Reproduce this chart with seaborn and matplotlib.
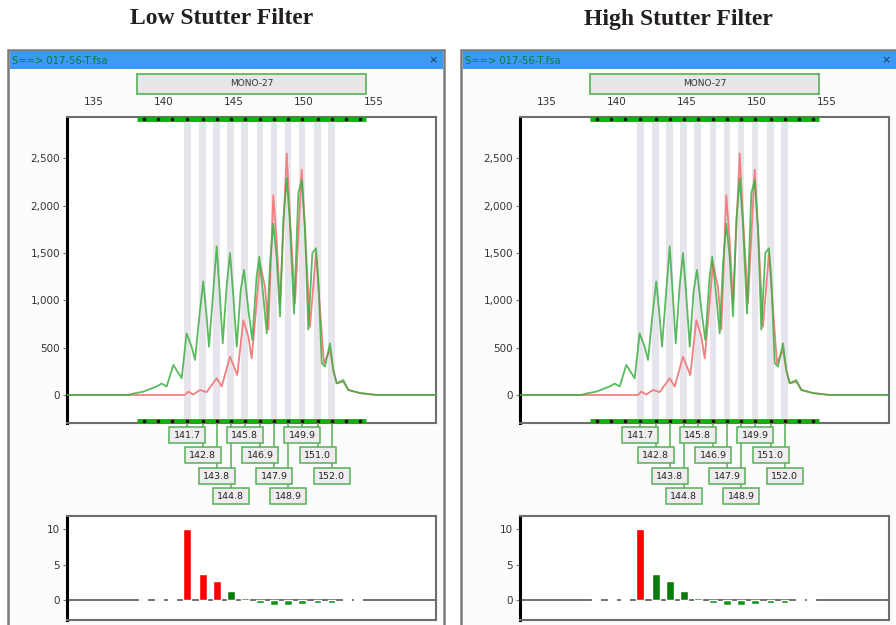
import matplotlib
matplotlib.use("Agg")
import matplotlib.pyplot as plt
import seaborn as sns
import pandas as pd
from matplotlib.patches import Rectangle
from matplotlib import transforms

# ---------------- data ----------------
panel_titles = ["Low Stutter Filter", "High Stutter Filter"]
window_title = "S==> 017-56-T.fsa"
marker_name = "MONO-27"
size_ticks = [135, 140, 145, 150, 155]
height_ticks = [0, 500, 1000, 1500, 2000, 2500]
bar_ticks = [0, 5, 10]

allele_sizes = [141.7, 142.8, 143.8, 144.8, 145.8, 146.9, 147.9, 148.9, 149.9, 151.0, 152.0]
allele_labels = ["141.7", "142.8", "143.8", "144.8", "145.8", "146.9",
                 "147.9", "148.9", "149.9", "151.0", "152.0"]

green_bp = [133.1, 137.48, 137.84, 138.56, 139.16, 139.51, 139.87, 140.23, 140.70, 141.30,
            141.65, 142.01, 142.25, 142.56, 142.84, 143.08, 143.25, 143.56, 143.80, 144.03,
            144.23, 144.51, 144.75, 144.99, 145.23, 145.51, 145.75, 146.06, 146.34, 146.65,
            146.84, 147.13, 147.37, 147.61, 147.84, 148.08, 148.32, 148.56, 148.80, 149.03,
            149.32, 149.63, 149.87, 150.11, 150.34, 150.63, 150.89, 151.06, 151.30, 151.53,
            151.89, 152.13, 152.37, 152.84, 153.20, 154.03, 155.23, 159.5]
green_rfu = [0, 0, 15, 35, 70, 90, 120, 90, 317, 176,
             650, 510, 370, 830, 1200, 830, 510, 1110, 1570, 1040,
             545, 1150, 1500, 1040, 510, 1100, 1320, 900, 580, 1250,
             1460, 1040, 650, 1390, 1810, 1460, 830, 1850, 2290, 1810,
             860, 2130, 2270, 1740, 690, 1500, 1550, 1210, 335, 300,
             545, 260, 123, 158, 53, 20, 0, 0]

red_bp = [133.1, 141.53, 141.77, 142.13, 142.61, 143.08, 143.80, 144.16, 144.75, 145.27,
          145.70, 146.06, 146.30, 146.65, 146.89, 147.25, 147.49, 147.84, 148.08, 148.32,
          148.80, 149.03, 149.39, 149.87, 150.11, 150.46, 150.89, 151.18, 151.46, 151.89,
          152.13, 152.37, 152.84, 153.20, 154.03, 155.23, 159.5]
red_rfu = [0, 0, 35, 5, 53, 30, 176, 90, 405, 211,
           790, 616, 387, 970, 1390, 1140, 690, 2110, 1640, 970,
           2550, 1880, 970, 2380, 1740, 720, 1500, 900, 335, 475,
           260, 123, 140, 53, 20, 0, 0]

bar_values = [10.0, 3.7, 2.7, 1.3, 0.33, -0.4, -0.7, -0.75, -0.55, -0.4, -0.45]
side_bar_bp = [138.56, 139.7, 140.59, 153.09, 153.91]
side_bar_values = [0.15, 0.15, 0.15, 0.15, 0.15]
red_bar_count = [3, 1]          # bars flagged red by the low / high filter

band_ticks = [138.6, 139.6, 140.6, 141.7, 142.8, 143.8, 144.8, 145.8, 146.9,
              147.9, 148.9, 149.9, 151.0, 152.0, 153.0, 154.0]
marker_range = [138.1, 154.45]

# ---------------- style ----------------
sns.set_theme(style="white")
plt.rcParams["font.family"] = ["DejaVu Sans"]

W, H = 896, 625
fig = plt.figure(figsize=(W / 100, H / 100), dpi=100)
fig.patch.set_facecolor("white")


def px_axes(l, t, r, b):
    return fig.add_axes([l / W, 1 - b / H, (r - l) / W, (b - t) / H])


XLIM = (133.11, 159.46)
GREEN = "#3cb043"
RED = "#f28080"
BOXEDGE = "#55b055"
TXT = "#333333"

bg = px_axes(0, 0, W, H)
bg.set_xlim(0, W)
bg.set_ylim(H, 0)
bg.axis("off")

for p in range(2):
    dx = 453 * p
    # window frame & title bar
    bg.add_patch(Rectangle((8 + dx, 50), 436, 590, facecolor="#fcfcfc",
                           edgecolor="#7a7a7a", lw=1.8, zorder=1))
    bg.add_patch(Rectangle((9.5 + dx, 51), 433, 18, facecolor="#3c9af2",
                           edgecolor="none", zorder=2))
    bg.text(12 + dx, 60.5, window_title, fontsize=7.2, color="#0b7a3c",
            va="center", ha="left", zorder=3)
    bg.text(433 + dx, 60, "×", fontsize=8, color="#1a3a5a", va="center",
            ha="center", zorder=3)
    bg.text(222 + dx * 1.008, 19, panel_titles[p], fontsize=17,
            family="Liberation Serif", weight="bold", color="#231f20",
            ha="center", va="center")

    # ---------- main electropherogram ----------
    ax = px_axes(67 + dx, 117, 436 + dx, 423)
    ax.set_facecolor("white")
    ax.set_xlim(*XLIM)
    ax.set_ylim(-296, 2936)
    for b in allele_sizes:
        ax.axvspan(b - 0.24, b + 0.24, color="#e8e4ec", lw=0, zorder=0)
    sns.lineplot(x=red_bp, y=red_rfu, color=RED, lw=1.3, ax=ax,
                 estimator=None, sort=False, zorder=2)
    sns.lineplot(x=green_bp, y=green_rfu, color=GREEN, lw=1.3, alpha=0.85,
                 ax=ax, estimator=None, sort=False, zorder=3)
    trans = transforms.blended_transform_factory(ax.transData, ax.transAxes)
    for yb in (0.992, 0.008):
        ax.plot(marker_range, [yb, yb], color="#12b012", lw=3.5,
                transform=trans, clip_on=False, zorder=4, solid_capstyle="butt")
        ax.plot(band_ticks, [yb] * len(band_ticks), ls="none", marker="s",
                ms=1.6, color="#111111", transform=trans, clip_on=False, zorder=5)
    # marker (bin set) label box
    ax.add_patch(Rectangle((marker_range[0], 1.075), marker_range[1] - marker_range[0],
                           0.0654, transform=trans, facecolor="#e8e6e9",
                           edgecolor=BOXEDGE, lw=1.2, clip_on=False, zorder=5))
    ax.text(sum(marker_range) / 2, 1.108, marker_name, transform=trans,
            fontsize=6.5, color=TXT, ha="center", va="center", clip_on=False,
            zorder=6)

    ax.xaxis.tick_top()
    ax.set_xticks(size_ticks)
    ax.set_xticklabels([str(t) for t in size_ticks])
    ax.tick_params(axis="x", length=0, pad=7, labelsize=7.5, labelcolor=TXT)
    ax.set_yticks(height_ticks)
    ax.set_yticklabels([f"{t:,}" for t in height_ticks])
    ax.tick_params(axis="y", left=True, length=3, width=0.8, color="#777777",
                   pad=2, labelsize=7.5, labelcolor=TXT)
    for s in ("top", "right", "bottom"):
        ax.spines[s].set_color("#6e6e6e")
        ax.spines[s].set_linewidth(1.5)
    ax.spines["left"].set_color("black")
    ax.spines["left"].set_linewidth(2.2)
    ax.set_xlabel("")
    ax.set_ylabel("")

    # ---------- allele label boxes ----------
    la = px_axes(67 + dx, 423, 436 + dx, 512)
    la.set_xlim(*XLIM)
    la.set_ylim(512, 423)
    la.axis("off")
    row_top = [427, 447, 468, 488]
    bw = 2.57
    for i, (b, lab) in enumerate(zip(allele_sizes, allele_labels)):
        top = row_top[i % 4]
        la.plot([b, b], [423, top], color=BOXEDGE, lw=1.1, zorder=1)
        la.add_patch(Rectangle((b - bw / 2, top), bw, 16, facecolor="#efedf0",
                               edgecolor=BOXEDGE, lw=1.1, zorder=2))
        la.text(b, top + 8.3, lab, fontsize=6.8, color="#222222", ha="center",
                va="center", zorder=3)

    # ---------- stutter ratio bars ----------
    bx = px_axes(67 + dx, 516, 436 + dx, 620)
    bx.set_facecolor("white")
    bx.set_xlim(*XLIM)
    bx.set_ylim(-2.86, 11.9)
    bx.axhline(0, color="#6e6e6e", lw=1.4, zorder=1)
    colors = []
    for i, v in enumerate(bar_values):
        if i < red_bar_count[p]:
            colors.append("#ff0000")
        else:
            colors.append("#0a7a0a" if i < 5 else "#11961a")
    bx.bar(allele_sizes, bar_values, width=0.56, color=colors, zorder=2)
    bx.bar(side_bar_bp, side_bar_values, width=0.56, color="#9be39b", zorder=3)
    bx.set_xticks([])
    bx.set_yticks(bar_ticks)
    bx.set_yticklabels([str(t) for t in bar_ticks])
    bx.tick_params(axis="y", left=True, length=3, width=0.8, color="#777777",
                   pad=2, labelsize=7.5, labelcolor=TXT)
    for s in ("top", "right", "bottom"):
        bx.spines[s].set_color("#6e6e6e")
        bx.spines[s].set_linewidth(1.5)
    bx.spines["left"].set_color("black")
    bx.spines["left"].set_linewidth(2.2)

fig.savefig("out.png", dpi=100)
